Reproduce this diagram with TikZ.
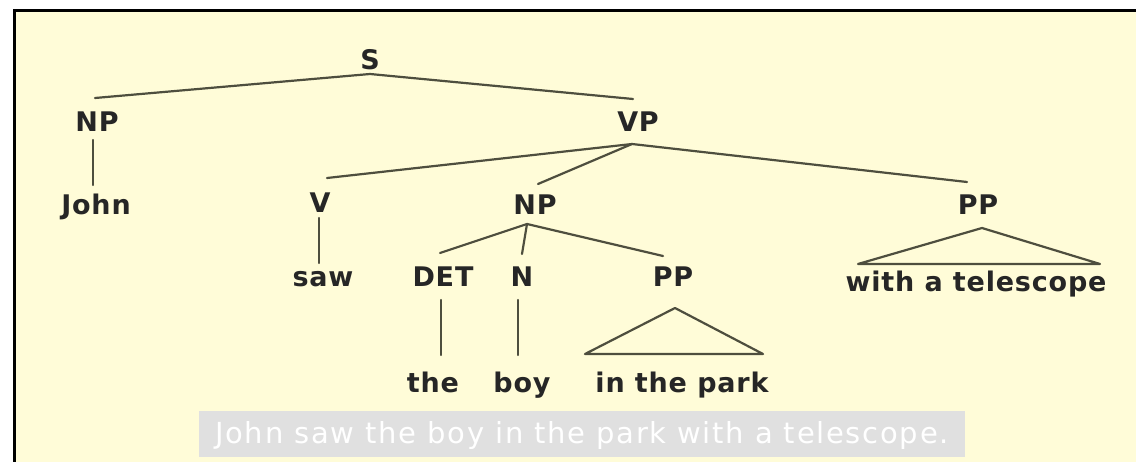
\documentclass[tikz,border=0pt]{standalone}
\usepackage{fontspec}
\setmainfont{DejaVu Sans}[LetterSpace=3]
\newfontfamily\capfont{DejaVu Sans}[LetterSpace=6]
\usetikzlibrary{calc}
\definecolor{bgyellow}{RGB}{255,252,216}
\definecolor{capgray}{RGB}{224,224,224}
\definecolor{linecol}{RGB}{78,78,62}
\tikzset{
  lbl/.style={anchor=base, inner sep=0pt, font=\fontsize{27}{32}\selectfont\bfseries, text=black!85},
  br/.style={draw=linecol, line width=2.2pt, line cap=round},
}
\begin{document}
\begin{tikzpicture}[x=1pt,y=-1pt]
\useasboundingbox (0,0) rectangle (1136,462);
\fill[white] (0,0) rectangle (1136,462);
\fill[bgyellow] (14,11) rectangle (1136,462);
\draw[black, line width=3pt] (14,462) -- (14,11) -- (1136,11);

% labels
\node[lbl] (S)    at (370,70)  {S};
\node[lbl] (NPa)  at (97,132)  {NP};
\node[lbl] (VP)   at (638,132) {VP};
\node[lbl] (John) at (96,215)  {John};
\node[lbl] (V)    at (320,213) {V};
\node[lbl] (NPb)  at (535,215) {NP};
\node[lbl] (PPb)  at (978,215) {PP};
\node[lbl] (saw)  at (323,287) {saw};
\node[lbl] (DET)  at (443,287) {DET};
\node[lbl] (N)    at (522,287) {N};
\node[lbl] (PPa)  at (673,287) {PP};
\node[lbl] (tel)  at (976,292) {with a telescope};
\node[lbl] (the)  at (433,393) {the};
\node[lbl] (boy)  at (522,393) {boy};
\node[lbl] (park) at (682,393) {in the park};

% branches
\draw[br] ($(NPa.base)+(-2,-34)$) -- ($(S.base)+(0,4)$) -- ($(VP.base)+(-5,-33)$);
\draw[br] ($(NPa.base)+(-4,8)$) -- ($(John.base)+(-3,-30)$);
\draw[br] ($(V.base)+(7,-35)$) -- ($(VP.base)+(-6,12)$) -- ($(PPb.base)+(-11,-33)$);
\draw[br] ($(VP.base)+(-6,12)$) -- ($(NPb.base)+(3,-31)$);
\draw[br] ($(V.base)+(-1,5)$) -- ($(saw.base)+(-4,-24)$);
\draw[br] ($(DET.base)+(-3,-34)$) -- ($(NPb.base)+(-8,9)$) -- ($(PPa.base)+(-10,-31)$);
\draw[br] ($(NPb.base)+(-8,9)$) -- ($(N.base)+(0,-33)$);
\draw[br] ($(DET.base)+(-2,13)$) -- ($(the.base)+(8,-38)$);
\draw[br] ($(N.base)+(-4,13)$) -- ($(boy.base)+(-4,-38)$);
\draw[br, line join=round] ($(park.base)+(-97,-39)$) -- ($(PPa.base)+(2,21)$) -- ($(park.base)+(81,-39)$) -- cycle;
\draw[br, line join=round] ($(tel.base)+(-118,-28)$) -- ($(PPb.base)+(4,13)$) -- ($(tel.base)+(124,-28)$) -- cycle;

% caption
\fill[capgray] (199,411) rectangle (965,457);
\node[anchor=base, inner sep=0pt, text=white, font=\capfont\fontsize{29}{34}\selectfont] (cap) at (582,443) {John saw the boy in the park with a telescope.};
\end{tikzpicture}
\end{document}
